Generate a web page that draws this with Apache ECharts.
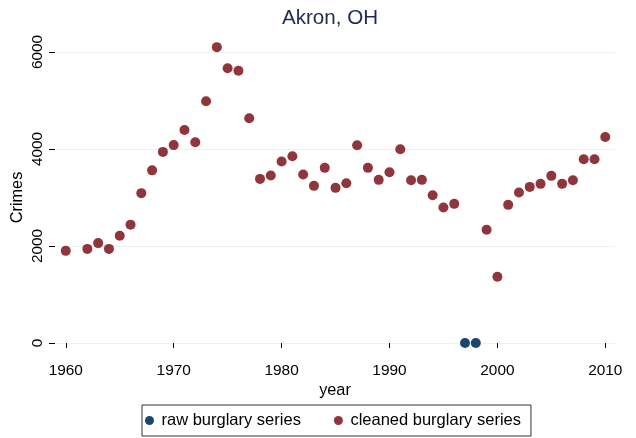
<!DOCTYPE html>
<html>
<head>
<meta charset="utf-8">
<script src="https://cdn.jsdelivr.net/npm/echarts@6/dist/echarts.min.js"></script>
<style>html,body{margin:0;padding:0;background:#fff}#c{width:636px;height:438px}</style>
</head>
<body>
<div id="c"></div>
<script>
var rawYears = [1997, 1998];
var rawValues = [0, 0];
var cleanYears = [1960,1962,1963,1964,1965,1966,1967,1968,1969,1970,1971,1972,1973,1974,1975,1976,1977,1978,1979,1980,1981,1982,1983,1984,1985,1986,1987,1988,1989,1990,1991,1992,1993,1994,1995,1996,1999,2000,2001,2002,2003,2004,2005,2006,2007,2008,2009,2010];
var cleanValues = [1900,1940,2060,1940,2210,2440,3090,3560,3940,4080,4390,4140,4985,6100,5665,5612,4634,3384,3452,3741,3851,3473,3240,3611,3199,3295,4078,3611,3364,3522,3995,3357,3364,3048,2793,2869,2334,1366,2848,3102,3219,3281,3446,3281,3357,3789,3789,4249];
var xTicks = [1960, 1970, 1980, 1990, 2000, 2010];
var yTicks = [0, 2000, 4000, 6000];

function pairs(xs, ys) { return xs.map(function (x, i) { return [x, ys[i]]; }); }
function plain(v) { return String(Math.round(v)); }

var FONT = 'Liberation Sans';
var chart = echarts.init(document.getElementById('c'), null, {renderer: 'canvas'});
var txt = '#000';
chart.setOption({
  animation: false,
  backgroundColor: '#fff',
  title: {
    text: 'Akron, OH', left: 325, top: 3, textAlign: 'center',
    textStyle: {color: '#1e2b55', fontSize: 20.6, fontWeight: 'normal', fontFamily: FONT}
  },
  grid: {left: 55, right: 21, top: 52, bottom: 95, containLabel: false, outerBoundsMode: 'none'},
  xAxis: {
    type: 'value', min: 1959.0, max: 2010.9,
    name: 'year', nameLocation: 'middle', nameGap: 25,
    nameTextStyle: {color: txt, fontSize: 16.3, fontFamily: FONT},
    offset: 10,
    axisLine: {show: false},
    axisTick: {show: true, length: 5, customValues: xTicks, lineStyle: {color: '#000', width: 1}},
    axisLabel: {customValues: xTicks, formatter: plain, color: txt, fontSize: 15.4, fontFamily: FONT, margin: 10},
    splitLine: {show: false}
  },
  yAxis: {
    type: 'value', min: 0, max: 6000, interval: 2000,
    name: 'Crimes', nameLocation: 'middle', nameGap: 29, nameMoveOverlap: false,
    nameTextStyle: {color: txt, fontSize: 16.3, fontFamily: FONT},
    axisLine: {show: false},
    axisTick: {show: true, length: 6, lineStyle: {color: '#000', width: 1}},
    axisLabel: {rotate: 90, formatter: plain, color: txt, fontSize: 15.4, fontFamily: FONT, margin: 10},
    splitLine: {show: true, lineStyle: {color: '#eaf2f3', width: 1}}
  },
  legend: {
    bottom: 2, left: 142,
    itemWidth: 14, itemHeight: 9, itemGap: 33,
    padding: [7, 10, 7, 3],
    borderColor: '#333', borderWidth: 1,
    textStyle: {color: txt, fontSize: 16.5, fontFamily: FONT},
    data: [{name: 'raw burglary series', icon: 'circle'}, {name: 'cleaned burglary series', icon: 'circle'}]
  },
  series: [
    {name: 'raw burglary series', type: 'scatter', symbol: 'circle', symbolSize: 10, clip: false,
     itemStyle: {color: '#1a476f', opacity: 1}, data: pairs(rawYears, rawValues)},
    {name: 'cleaned burglary series', type: 'scatter', symbol: 'circle', symbolSize: 10, clip: false,
     itemStyle: {color: '#90353b', opacity: 1}, data: pairs(cleanYears, cleanValues)}
  ]
});
</script>
</body>
</html>
